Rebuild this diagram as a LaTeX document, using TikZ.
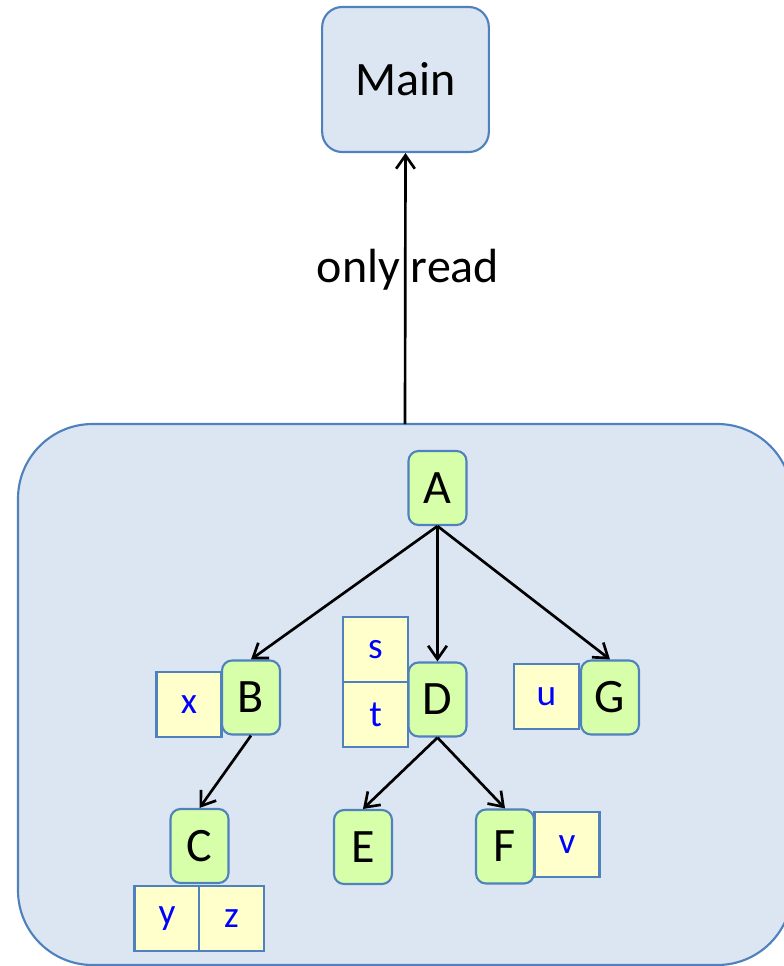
\documentclass[tikz,border=0pt]{standalone}
\usepackage{fontspec}
\setmainfont{Carlito}
\usetikzlibrary{arrows.meta}
\definecolor{bdr}{HTML}{4F81BD}
\definecolor{panel}{HTML}{DCE6F2}
\definecolor{grn}{HTML}{D7FFA9}
\definecolor{ylw}{HTML}{FFFFCC}
\begin{document}
\begin{tikzpicture}[x=0.75pt,y=-0.75pt,
  big/.style={font=\fontsize{36}{43}\selectfont},
  small/.style={font=\fontsize{28}{33}\selectfont,text=blue},
  gbox/.style={draw=bdr,line width=1.6pt,fill=grn,rounded corners=7.5pt,
    minimum width=43.5pt,minimum height=55.5pt,inner sep=0pt,big},
  ybox/.style={draw=bdr,line width=1.6pt,fill=ylw,
    minimum width=48.75pt,minimum height=48.75pt,inner sep=0pt,small},
  arr/.style={line width=2pt,-{Straight Barb[length=10pt,width=14pt,line width=2pt]}}]
\useasboundingbox (0,0) rectangle (784,966);
\begin{scope}
\clip (0,0) rectangle (784,966);
\node[draw=bdr,line width=1.6pt,fill=panel,rounded corners=56pt,inner sep=0pt,
  minimum width=580.5pt,minimum height=405.75pt] (panel) at (405,694.5) {};
\end{scope}
\node[draw=bdr,line width=1.6pt,fill=panel,rounded corners=15pt,inner sep=0pt,
  minimum width=125pt,minimum height=108.75pt,big] (main) at (405.5,79.5) {Main};
\coordinate (ptop) at (405,424);
\draw[arr] (ptop) -- (main.south);
\node[big] (lbl) at (408,270) {only read};
% yellow boxes
\node[ybox] (x) at (189,704.5) {x};
\node[ybox] (s) at (375.5,649.5) {s};
\node[ybox] (t) at (375.5,714.5) {t};
\node[ybox] (u) at (546.5,696.5) {u};
\node[ybox] (y) at (167,918.5) {y};
\node[ybox] (z) at (231.5,918.5) {z};
\node[ybox] (v) at (567,844.5) {v};
% green boxes
\node[gbox] (A) at (437.5,488) {A};
\node[gbox] (B) at (251,697.5) {B};
\node[gbox] (D) at (437.5,699.5) {D};
\node[gbox] (G) at (610,697.5) {G};
\node[gbox] (C) at (199.5,846) {C};
\node[gbox] (E) at (363,847) {E};
\node[gbox] (F) at (505,846.5) {F};
% arrows
\draw[arr] (A.south) -- (B.north);
\draw[arr] (A.south) -- (D.north);
\draw[arr] (A.south) -- (G.north);
\draw[arr] (B.south) -- (C.north);
\draw[arr] (D.south) -- (E.north);
\draw[arr] (D.south) -- (F.north);
\end{tikzpicture}
\end{document}
